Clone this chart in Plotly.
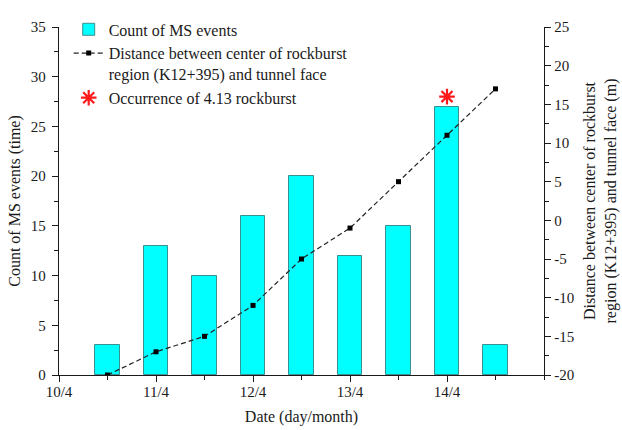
import plotly.graph_objects as go

# ---- data ----
day_positions = [10.5, 11, 11.5, 12, 12.5, 13, 13.5, 14, 14.5]
ms_event_counts = [3, 13, 10, 16, 20, 12, 15, 27, 3]
distance_to_face = [-20, -17, -15, -11, -5, -1, 5, 11, 17]
rockburst_day = [14]
rockburst_marker_level = [28.0]
date_tick_values = [10, 11, 12, 13, 14]
date_tick_labels = ["10/4", "11/4", "12/4", "13/4", "14/4"]
count_tick_values = [0, 5, 10, 15, 20, 25, 30, 35]
distance_tick_values = [-20, -15, -10, -5, 0, 5, 10, 15, 20, 25]
distance_tick_labels = ["-20", "-15", "-10", "-5", "0", "5", "10", "15", "20", "25"]

FONT = "Liberation Serif, Times New Roman, serif"
INK = "#1a1a1a"

fig = go.Figure()

fig.add_trace(go.Bar(
    x=day_positions, y=ms_event_counts, width=0.25,
    name="Count of MS events",
    marker=dict(color="#00FFFF", line=dict(color="#3b8f8f", width=1)),
    yaxis="y",
))

fig.add_trace(go.Scatter(
    x=day_positions, y=distance_to_face,
    mode="lines+markers",
    name="Distance between center of rockburst<br>region (K12+395) and tunnel face",
    line=dict(color="#222222", width=1.2, dash="5px,3px"),
    marker=dict(symbol="square", size=5, color="#000000"),
    yaxis="y2",
))

fig.add_trace(go.Scatter(
    x=rockburst_day, y=rockburst_marker_level,
    mode="markers",
    name="Occurrence of 4.13 rockburst",
    marker=dict(symbol="asterisk-open", size=13, color="#ff1a1a",
                line=dict(color="#ff1a1a", width=2.2)),
    yaxis="y",
))

axis_common = dict(
    showline=True, linecolor=INK, linewidth=1.3,
    ticks="outside", ticklen=6, tickwidth=1.3, tickcolor=INK,
    showgrid=False, zeroline=False, automargin=False,
    tickfont=dict(family=FONT, size=15, color=INK),
)

fig.update_layout(
    width=622, height=430,
    margin=dict(l=59, r=78, t=17, b=55),
    paper_bgcolor="white", plot_bgcolor="white",
    font=dict(family=FONT, size=16, color=INK),
    bargap=0,
    xaxis=dict(
        range=[10, 15],
        tickmode="array", tickvals=date_tick_values, ticktext=date_tick_labels,
        minor=dict(tickmode="linear", tick0=10, dtick=0.5, ticklen=4,
                   tickwidth=1.2, tickcolor=INK, ticks="outside"),
        title=dict(text="Date (day/month)", font=dict(family=FONT, size=16, color=INK),
                   standoff=11),
        ticklabelstandoff=-3,
        **axis_common,
    ),
    yaxis=dict(
        range=[0, 35], tickmode="array", tickvals=count_tick_values,
        minor=dict(tickmode="linear", tick0=0, dtick=2.5, ticklen=4,
                   tickwidth=1.2, tickcolor=INK, ticks="outside"),
        title=dict(text="Count of MS events (time)",
                   font=dict(family=FONT, size=16, color=INK), standoff=6),
        ticklabelstandoff=3,
        **axis_common,
    ),
    yaxis2=dict(
        range=[-20, 25], tickmode="array", tickvals=distance_tick_values,
        ticktext=distance_tick_labels,
        overlaying="y", side="right",
        minor=dict(tickmode="linear", tick0=-20, dtick=2.5, ticklen=4,
                   tickwidth=1.2, tickcolor=INK, ticks="outside"),
        title=dict(text="Distance between center of rockburst<br>region (K12+395) and tunnel face (m)",
                   font=dict(family=FONT, size=16, color=INK), standoff=10),
        **axis_common,
    ),
    legend=dict(
        x=0.020, y=1.042, xanchor="left", yanchor="top",
        bgcolor="rgba(0,0,0,0)", borderwidth=0,
        font=dict(family=FONT, size=16, color=INK),
        itemwidth=30, tracegroupgap=0, valign="top",
    ),
    showlegend=True,
)

fig.write_html("out.html", config={"displayModeBar": False},
               post_script="document.body.style.margin='0';")
